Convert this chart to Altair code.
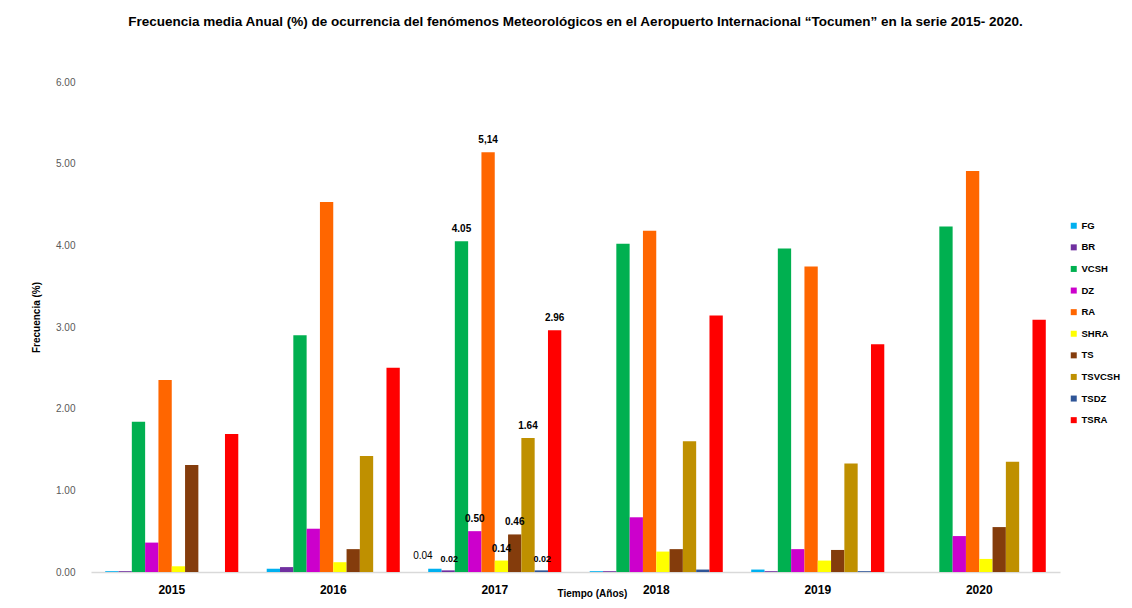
import altair as alt
import pandas as pd

years = ["2015", "2016", "2017", "2018", "2019", "2020"]
phenomena = ["FG", "BR", "VCSH", "DZ", "RA", "SHRA", "TS", "TSVCSH", "TSDZ", "TSRA"]
colors = ["#00B0F0", "#7030A0", "#00B050", "#CC00CC", "#FF6600",
          "#FFFF00", "#843C0C", "#BF9000", "#2F5597", "#FF0000"]

FG = [0.01, 0.04, 0.04, 0.01, 0.03, 0.00]
BR = [0.01, 0.06, 0.02, 0.01, 0.01, 0.00]
VCSH = [1.84, 2.90, 4.05, 4.02, 3.96, 4.23]
DZ = [0.36, 0.53, 0.50, 0.67, 0.28, 0.44]
RA = [2.35, 4.53, 5.14, 4.18, 3.74, 4.91]
SHRA = [0.07, 0.12, 0.14, 0.25, 0.14, 0.16]
TS = [1.31, 0.28, 0.46, 0.28, 0.27, 0.55]
TSVCSH = [0.00, 1.42, 1.64, 1.60, 1.33, 1.35]
TSDZ = [0.00, 0.00, 0.02, 0.03, 0.01, 0.00]
TSRA = [1.69, 2.50, 2.96, 3.14, 2.79, 3.09]

# value labels shown in the original (only for 2017)
labels_2017 = ["0.04", "0.02", "4.05", "0.50", "5,14", "0.14", "0.46", "1.64", "0.02", "2.96"]

series = [FG, BR, VCSH, DZ, RA, SHRA, TS, TSVCSH, TSDZ, TSRA]
rows = []
for p, vals, lab in zip(phenomena, series, labels_2017):
    for y, v in zip(years, vals):
        rows.append({"anio": y, "fen": p, "valor": v, "etiqueta": lab if y == "2017" else ""})
df = pd.DataFrame(rows)

FONT = "Liberation Sans"

x_enc = alt.X(
    "anio:N",
    sort=years,
    scale=alt.Scale(paddingInner=0.176, paddingOuter=0.088),
    axis=alt.Axis(
        title="Tiempo (Años)",
        titleFont=FONT, titleFontSize=10, titleFontWeight="bold", titleColor="#000000",
        titleX=501, titleY=21, titleBaseline="middle",
        labelFont=FONT, labelFontSize=12, labelFontWeight="bold", labelColor="#000000",
        labelAngle=0, labelPadding=12, ticks=False, tickSize=0,
        domainColor="#D9D9D9", domainWidth=1.5,
    ),
)
y_enc = alt.Y(
    "valor:Q",
    scale=alt.Scale(domain=[0, 6], nice=False),
    axis=alt.Axis(
        title="Frecuencia (%)",
        titleFont=FONT, titleFontSize=10, titleFontWeight="bold", titleColor="#000000",
        titleX=-55, titleY=235, titleBaseline="middle",
        values=[0, 1, 2, 3, 4, 5, 6], format=".2f",
        labelFont=FONT, labelFontSize=10, labelColor="#595959", labelPadding=16,
        grid=False, domain=False, ticks=False, tickSize=0,
    ),
)
xo = alt.XOffset("fen:N", sort=phenomena, scale=alt.Scale(paddingInner=0, paddingOuter=0))

bars = alt.Chart(df).mark_bar().encode(
    x=x_enc,
    y=y_enc,
    xOffset=xo,
    color=alt.Color(
        "fen:N",
        sort=phenomena,
        scale=alt.Scale(domain=phenomena, range=colors),
        legend=alt.Legend(
            title=None, orient="none", legendX=978, legendY=139,
            symbolType="square", symbolSize=36, symbolStrokeWidth=0,
            labelFont=FONT, labelFontSize=9.5, labelFontWeight="bold", labelColor="#000000",
            labelOffset=3, rowPadding=10.6, padding=0,
        ),
    ),
)

def label_layer(cond, size, weight, dx, dy):
    return alt.Chart(df).transform_filter(cond).mark_text(
        font=FONT, fontSize=size, fontWeight=weight, color="#000000",
        dx=dx, dy=dy, baseline="middle"
    ).encode(
        x=alt.X("anio:N", sort=years),
        xOffset=alt.XOffset("fen:N", sort=phenomena),
        y=alt.Y("valor:Q"),
        text="etiqueta:N",
    )

big = label_layer(
    (alt.datum.etiqueta != "") & (alt.datum.etiqueta != "0.02") & (alt.datum.etiqueta != "0.04"),
    10, "bold", 0, -12)
small = label_layer(alt.datum.etiqueta == "0.02", 9, "bold", 1, -11)
left = label_layer(alt.datum.etiqueta == "0.04", 10, "normal", -12, -13)

chart = alt.layer(bars, big, small, left).properties(
    width=969,
    height=490,
    autosize=alt.AutoSizeParams(type="none"),
    padding={"left": 83, "top": 74, "right": 64, "bottom": 28},
    background="#FFFFFF",
    title=alt.TitleParams(
        text="Frecuencia media Anual (%) de ocurrencia del fenómenos  Meteorológicos en el Aeropuerto Internacional “Tocumen”  en la serie 2015- 2020.",
        font=FONT, fontSize=13.5, fontWeight="bold", color="#000000",
        anchor="middle", offset=49,
    ),
).configure_view(stroke=None)

chart.save("out.html", embed_options={"renderer": "svg", "actions": False})
